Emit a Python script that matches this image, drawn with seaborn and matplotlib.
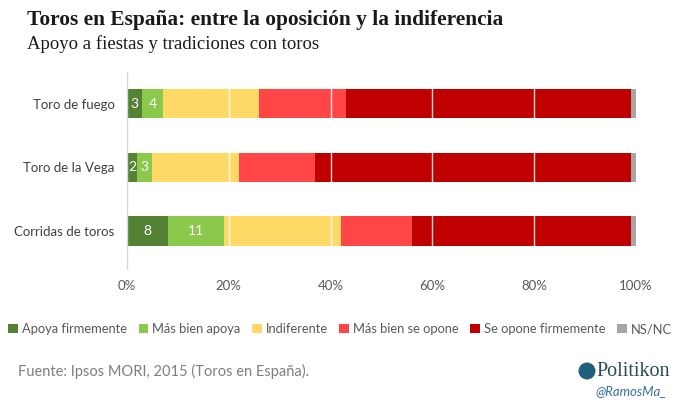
import matplotlib
matplotlib.use("Agg")
import matplotlib.pyplot as plt
import seaborn as sns
import pandas as pd
import numpy as np
from matplotlib.patches import Patch, Ellipse

categories = ["Toro de fuego", "Toro de la Vega", "Corridas de toros"]
series = ["Apoya firmemente", "Más bien apoya", "Indiferente",
          "Más bien se opone", "Se opone firmemente", "NS/NC"]
apoya_firme = [3, 2, 8]
mas_bien_apoya = [4, 3, 11]
indiferente = [19, 17, 23]
mas_bien_opone = [17, 15, 14]
opone_firme = [56, 62, 43]
nsnc = [1, 1, 1]
xticks = [0, 20, 40, 60, 80, 100]
xtick_labels = ["0%", "20%", "40%", "60%", "80%", "100%"]
labelled = ["Apoya firmemente", "Más bien apoya"]

colors = ["#548235", "#8CC84B", "#FFD966", "#FF4545", "#C00000", "#A6A6A6"]

values = [apoya_firme, mas_bien_apoya, indiferente, mas_bien_opone, opone_firme, nsnc]
df = pd.DataFrame({s: v for s, v in zip(series, values)}, index=categories)
cum = df.cumsum(axis=1)

sns.set_theme(style="white")
plt.rcParams["font.family"] = ["Lato", "DejaVu Sans"]

fig = plt.figure(figsize=(6.8, 4.03), dpi=100)
ax = fig.add_axes([127/680, 0.3325, 509/680, 0.4886])

# draw stacked bars by overlaying cumulative totals, largest first
for s, c in reversed(list(zip(series, colors))):
    d = pd.DataFrame({"cat": categories, "val": cum[s].values})
    sns.barplot(data=d, x="val", y="cat", orient="y", color=c, width=0.46,
                saturation=1, ax=ax, linewidth=0, zorder=2)

# segment labels
for s in labelled:
    starts = (cum[s] - df[s]).values
    for i, (st, v) in enumerate(zip(starts, df[s].values)):
        ax.text(st + v / 2, i, f"{v}", color="white", ha="center", va="center",
                fontsize=10, zorder=5)

for xv in xticks[1:-1]:
    ax.axvline(xv, color="white", lw=1.0, zorder=4, alpha=0.85)

ax.set_xlim(0, 100)
ax.set_ylim(2.6, -0.5)
ax.set_xticks(xticks)
ax.set_xticklabels(xtick_labels)
ax.set_xlabel("")
ax.set_ylabel("")
ax.tick_params(axis="both", length=0, labelsize=9.5, colors="#595959", pad=8)
ax.tick_params(axis="y", colors="#404040", pad=9)
for sp in ["top", "right", "bottom"]:
    ax.spines[sp].set_visible(False)
ax.spines["left"].set_color("#D9D9D9")
ax.spines["left"].set_linewidth(1)

# titles
fig.text(27/680, 1 - 20/403, "Toros en España: entre la oposición y la indiferencia",
         family=["Liberation Serif", "DejaVu Serif"], fontweight="bold", fontsize=15.4,
         color="#1a1a1a", va="center", ha="left")
fig.text(27/680, 1 - 44/403, "Apoyo a fiestas y tradiciones con toros",
         family=["Liberation Serif", "DejaVu Serif"], fontsize=13.5,
         color="#1a1a1a", va="center", ha="left")

# legend
handles = [Patch(facecolor=c, edgecolor="none", label=s) for s, c in zip(series, colors)]
fig.legend(handles=handles, loc="center", bbox_to_anchor=(340/680, 1 - 329/403), ncol=6,
           frameon=False, fontsize=9.3, handlelength=0.75, handleheight=0.75,
           handletextpad=0.3, columnspacing=0.9, labelcolor="#595959", borderaxespad=0,
           borderpad=0)

# source
fig.text(18/680, 1 - 371/403, "Fuente: Ipsos MORI, 2015 (Toros en España).",
         fontsize=10.5, color="#7F7F7F", va="center", ha="left")

# branding
fig.patches.append(Ellipse((587/680, 1 - 371/403), 17/680, 17/403, transform=fig.transFigure,
                           facecolor="#1F5F7F", edgecolor="none"))
fig.text(596/680, 1 - 371/403, "Politikon", family=["Liberation Serif", "DejaVu Serif"],
         fontsize=14.5, color="#2B4A5E", va="center", ha="left")
fig.text(667/680, 1 - 391/403, "@RamosMa_", fontsize=9.5, style="italic",
         color="#3A6EA5", va="center", ha="right")

fig.savefig("out.png", dpi=100)
